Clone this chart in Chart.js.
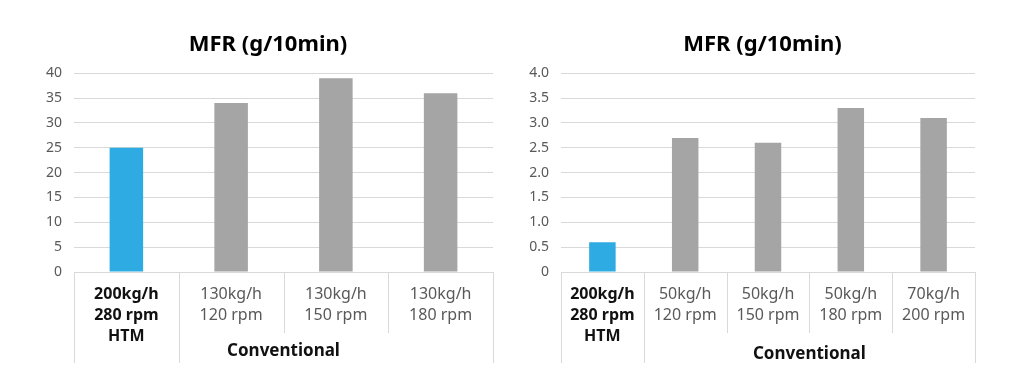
<!DOCTYPE html>
<html>
<head>
<meta charset="utf-8">
<script src="https://cdn.jsdelivr.net/npm/chart.js@4.4.0/dist/chart.umd.min.js"></script>
<style>
  body { margin: 0; background: #fff; }
  .box { position: absolute; top: 0; width: 512px; height: 384px; }
</style>
</head>
<body>
<div class="box" style="left:0"><canvas id="mfr-left"></canvas></div>
<div class="box" style="left:512px"><canvas id="mfr-right"></canvas></div>
<script>
// left chart
const leftLabels = [["200kg/h", "280 rpm", "HTM"], ["130kg/h", "120 rpm"], ["130kg/h", "150 rpm"], ["130kg/h", "180 rpm"]];
const leftValues = [25, 34, 39, 36];
// right chart
const rightLabels = [["200kg/h", "280 rpm", "HTM"], ["50kg/h", "120 rpm"], ["50kg/h", "150 rpm"], ["50kg/h", "180 rpm"], ["70kg/h", "200 rpm"]];
const rightValues = [0.6, 2.7, 2.6, 3.3, 3.1];

const chartTitle = "MFR (g/10min)";
const groupName = "Conventional";

const FONT = "'Noto Sans', 'Open Sans', sans-serif";
const BLUE = "#2eabe2";
const GREY = "#a5a5a5";
const LINE = "#d9d9d9";

// draws the divider lines under the axis and the group label
const groupAxis = {
  id: 'groupAxis',
  afterLayout(chart, args, opts) {
    // nudge the title sideways (excel centres it over the whole chart box)
    if (opts.titleShift) {
      chart.titleBlock.left += opts.titleShift;
      chart.titleBlock.right += opts.titleShift;
    }
  },
  afterDraw(chart, args, opts) {
    const x = chart.scales.x;
    const area = chart.chartArea;
    const n = chart.data.labels.length;
    const ctx = chart.ctx;
    ctx.save();
    ctx.strokeStyle = LINE;
    ctx.lineWidth = 1;
    for (let i = 0; i <= n; i++) {
      let px;
      if (i === 0) px = area.left;
      else if (i === n) px = area.right;
      else px = (x.getPixelForValue(i - 1) + x.getPixelForValue(i)) / 2;
      const long = (i === 0 || i === 1 || i === n);
      px = Math.round(px) + 0.5;
      ctx.beginPath();
      ctx.moveTo(px, area.bottom);
      ctx.lineTo(px, area.bottom + (long ? 91 : 61));
      ctx.stroke();
    }
    const a = Math.floor(opts.labelAt), b = Math.ceil(opts.labelAt);
    const cx = (x.getPixelForValue(a) + x.getPixelForValue(b)) / 2;
    ctx.fillStyle = "#111";
    ctx.font = "bold 17px " + FONT;
    ctx.textAlign = "center";
    ctx.textBaseline = "middle";
    ctx.fillText(groupName, cx, area.bottom + opts.labelDy);
    ctx.restore();
  }
};

function makeChart(id, labels, values, yMax, yStep, fmt, pad, yWidth, group) {
  return new Chart(document.getElementById(id), {
    type: 'bar',
    data: {
      labels: labels,
      datasets: [{
        data: values,
        backgroundColor: values.map((v, i) => i === 0 ? BLUE : GREY),
        categoryPercentage: 1,
        barPercentage: 0.32
      }]
    },
    plugins: [groupAxis],
    options: {
      responsive: true,
      maintainAspectRatio: false,
      animation: false,
      devicePixelRatio: 1,
      layout: { padding: pad },
      plugins: {
        legend: { display: false },
        tooltip: { enabled: false },
        groupAxis: group,
        title: {
          display: true,
          text: chartTitle,
          color: "#000",
          font: { family: FONT, size: 22, weight: 'bold', lineHeight: 1.15 },
          padding: { top: 32, bottom: 16 }
        }
      },
      scales: {
        x: {
          grid: { display: false },
          border: { display: false },
          afterFit(s) { s.height = 90; },
          ticks: {
            padding: 4,
            maxRotation: 0,
            autoSkip: false,
            color: ctx => ctx.index === 0 ? "#111" : "#595959",
            font: ctx => ({ family: FONT, size: 16, lineHeight: 1.3, weight: ctx.index === 0 ? 'bold' : 'normal' })
          }
        },
        y: {
          min: 0,
          max: yMax,
          grid: { color: LINE, drawTicks: false },
          border: { display: false },
          afterFit(s) { s.width = yWidth; },
          ticks: {
            stepSize: yStep,
            padding: 12,
            color: "#595959",
            font: { family: FONT, size: 14 },
            callback: fmt
          }
        }
      }
    }
  });
}

makeChart('mfr-left', leftLabels, leftValues, 40, 5, v => String(v),
  { left: 43, right: 19, top: 0, bottom: 22 }, 31,
  { labelAt: 1.5, labelDy: 79, titleShift: 0 });
makeChart('mfr-right', rightLabels, rightValues, 4, 0.5, v => v === 0 ? '0' : v.toFixed(1),
  { left: 12, right: 49, top: 0, bottom: 22 }, 37,
  { labelAt: 2.5, labelDy: 82, titleShift: 13 });
</script>
</body>
</html>
